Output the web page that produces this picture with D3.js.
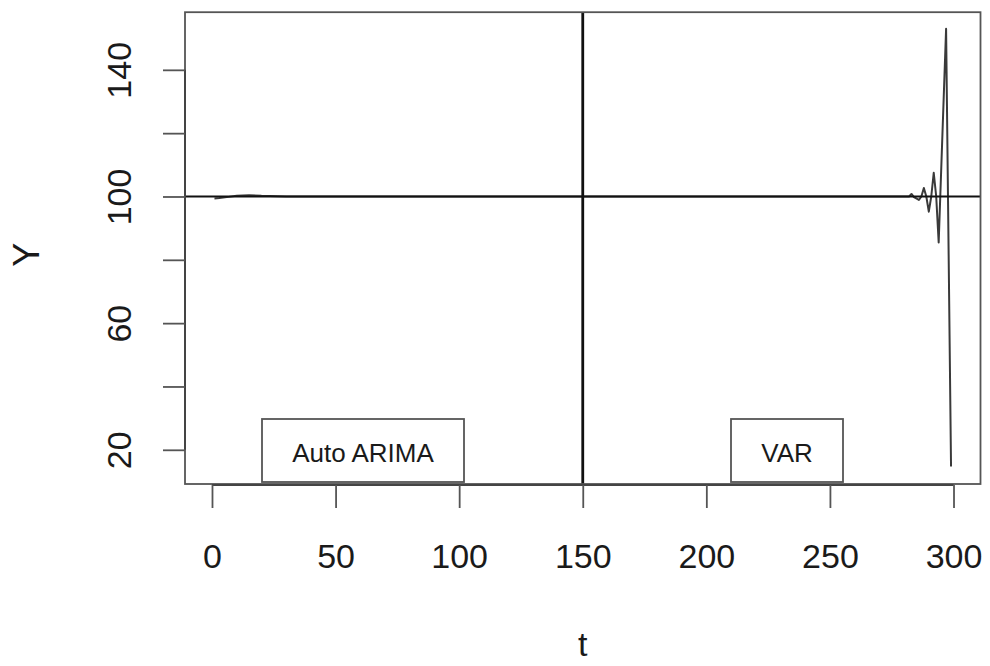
<!DOCTYPE html>
<html>
<head>
<meta charset="utf-8">
<script src="https://cdn.jsdelivr.net/npm/d3@7"></script>
<style>
  html, body { margin: 0; padding: 0; background: #fff; }
  svg { display: block; }
  text { font-family: "Liberation Sans", Arial, Helvetica, sans-serif; fill: #1a1a1a; }
</style>
</head>
<body>
<svg id="chart" width="990" height="666"></svg>
<script>
// ---- data ----
const seriesT = [1, 3, 6, 10, 15, 20, 30, 60, 100, 150, 200, 250, 280, 282, 283, 284, 286, 287, 288, 289, 290, 291, 292, 293, 294, 297, 299];
const seriesY = [99.4, 99.5, 99.8, 100.2, 100.4, 100.2, 100.0, 100, 100, 100, 100, 100, 100, 100, 100.8, 99.8, 98.9, 100, 102.7, 100, 95.2, 100, 107.5, 100, 85.5, 153, 14.7];
const xTicks = [0, 50, 100, 150, 200, 250, 300];
const yTicks = [20, 40, 60, 80, 100, 120, 140];
const yTickLabels = ["20", "", "60", "", "100", "", "140"];
const hLineValue = 100;
const vLineValue = 150;
const legendLabels = ["Auto ARIMA", "VAR"];
const xTitle = "t";
const yTitle = "Y";

// ---- layout ----
const svg = d3.select("#chart");
const box = { left: 185, right: 980.5, top: 12.2, bottom: 484 };

const x = d3.scaleLinear().domain([-10.92, 310.92]).range([box.left, box.right]);
const y = d3.scaleLinear().domain([9.2, 158.2]).range([box.bottom, box.top]);

svg.append("clipPath").attr("id", "plotclip")
  .append("rect").attr("x", box.left).attr("y", box.top)
  .attr("width", box.right - box.left).attr("height", box.bottom - box.top);

const plot = svg.append("g").attr("clip-path", "url(#plotclip)");

// series line
const pts = seriesT.map((t, i) => [t, seriesY[i]]);
plot.append("path")
  .datum(pts)
  .attr("fill", "none")
  .attr("stroke", "#3a3a3a")
  .attr("stroke-width", 2)
  .attr("stroke-linejoin", "round")
  .attr("d", d3.line().x(d => x(d[0])).y(d => y(d[1])));

// reference lines
plot.append("line")
  .attr("x1", box.left).attr("x2", box.right)
  .attr("y1", y(hLineValue)).attr("y2", y(hLineValue))
  .attr("stroke", "#111").attr("stroke-width", 1.8);
plot.append("line")
  .attr("x1", x(vLineValue)).attr("x2", x(vLineValue))
  .attr("y1", box.top).attr("y2", box.bottom)
  .attr("stroke", "#111").attr("stroke-width", 2.8);

// plot box
svg.append("rect")
  .attr("x", box.left).attr("y", box.top)
  .attr("width", box.right - box.left).attr("height", box.bottom - box.top)
  .attr("fill", "none").attr("stroke", "#555").attr("stroke-width", 1.8);

// x axis
const xAxis = d3.axisBottom(x).tickValues(xTicks).tickSize(23).tickPadding(10)
  .tickFormat(d3.format("d"));
const gx = svg.append("g").attr("transform", `translate(0,${box.bottom + 1})`).call(xAxis);
gx.select(".domain").attr("d", `M${x(xTicks[0])},0H${x(xTicks[xTicks.length - 1])}`)
  .attr("stroke", "#444").attr("stroke-width", 2);
gx.selectAll(".tick line").attr("stroke", "#555").attr("stroke-width", 1.8);
gx.selectAll(".tick text")
  .attr("font-size", 34).attr("fill", "#1a1a1a")
  .attr("dy", null).attr("y", 0)
  .attr("transform", "translate(0,83)");

// y axis
const yAxis = d3.axisLeft(y).tickValues(yTicks).tickSize(22)
  .tickFormat((d, i) => yTickLabels[i]);
const gy = svg.append("g").attr("transform", `translate(${box.left},0)`).call(yAxis);
gy.select(".domain").attr("d", `M0,${y(yTicks[0])}V${y(yTicks[yTicks.length - 1])}`)
  .attr("stroke", "#444").attr("stroke-width", 2);
gy.selectAll(".tick line").attr("stroke", "#555").attr("stroke-width", 1.8);
gy.selectAll(".tick text")
  .attr("font-size", 34).attr("fill", "#1a1a1a")
  .attr("x", null).attr("dy", null)
  .attr("text-anchor", "middle")
  .attr("transform", "translate(-54,0) rotate(-90)")
  .attr("y", 0);

// legends (boxes)
const legendBoxes = [
  { x0: 262, x1: 464 },
  { x0: 731, x1: 843 }
];
legendLabels.forEach((lab, i) => {
  const b = legendBoxes[i];
  svg.append("rect")
    .attr("x", b.x0).attr("y", 419).attr("width", b.x1 - b.x0).attr("height", 63)
    .attr("fill", "#fff").attr("stroke", "#555").attr("stroke-width", 1.8);
  svg.append("text")
    .attr("x", (b.x0 + b.x1) / 2).attr("y", 462)
    .attr("text-anchor", "middle").attr("font-size", 26)
    .text(lab);
});

// axis titles
svg.append("text").attr("x", x(vLineValue)).attr("y", 656)
  .attr("text-anchor", "middle").attr("font-size", 34).text(xTitle);
svg.append("text")
  .attr("transform", `translate(39,${y(80) - 5}) rotate(-90)`)
  .attr("text-anchor", "middle").attr("font-size", 36).text(yTitle);
</script>
</body>
</html>
